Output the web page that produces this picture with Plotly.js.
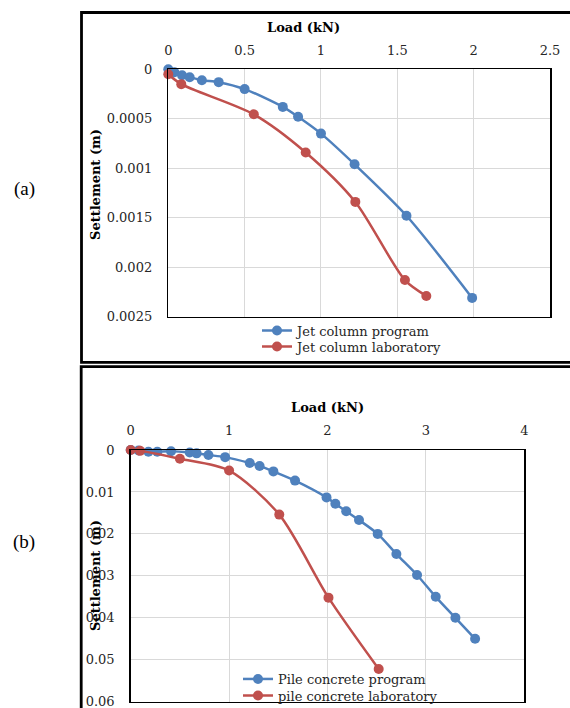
<!DOCTYPE html>
<html>
<head>
<meta charset="utf-8">
<script src="https://cdn.plot.ly/plotly-3.0.1.min.js"></script>
<style>
  html, body { margin: 0; padding: 0; background: #ffffff; }
  #chart { width: 570px; height: 708px; }
</style>
</head>
<body>
<div id="chart"></div>
<script>
// ---------- data: panel (a) jet column ----------
const jetProgramLoad   = [0, 0.04, 0.09, 0.14, 0.22, 0.33, 0.50, 0.75, 0.85, 1.00, 1.22, 1.56, 1.99];
const jetProgramSettle = [0, 0.00003, 0.00006, 0.00008, 0.00011, 0.00013, 0.00020, 0.00038, 0.00048, 0.00065, 0.00096, 0.00148, 0.00231];
const jetLabLoad       = [0, 0.085, 0.56, 0.90, 1.225, 1.55, 1.69];
const jetLabSettle     = [0.00005, 0.00015, 0.000455, 0.00084, 0.00134, 0.00213, 0.00229];

// ---------- data: panel (b) pile concrete ----------
const pileProgramLoad   = [0, 0.08, 0.18, 0.27, 0.41, 0.60, 0.67, 0.79, 0.96, 1.21, 1.31, 1.45, 1.67, 1.99, 2.08, 2.19, 2.32, 2.51, 2.70, 2.91, 3.10, 3.30, 3.50];
const pileProgramSettle = [0, 0.0001, 0.0004, 0.0004, 0.0003, 0.0006, 0.0008, 0.0012, 0.0017, 0.0031, 0.0038, 0.0051, 0.0073, 0.0113, 0.0128, 0.0146, 0.0167, 0.0200, 0.0248, 0.0298, 0.0350, 0.0400, 0.0450];
const pileLabLoad       = [0, 0.095, 0.50, 1.00, 1.51, 2.01, 2.52];
const pileLabSettle     = [0, 0.0002, 0.0021, 0.0049, 0.0154, 0.0352, 0.0522];

// ---------- ticks & labels ----------
const loadTicksA     = [0, 0.5, 1, 1.5, 2, 2.5];
const loadTickTextA  = ["0", "0.5", "1", "1.5", "2", "2.5"];
const settleTicksA   = [0, 0.0005, 0.001, 0.0015, 0.002, 0.0025];
const settleTextA    = ["0", "0.0005", "0.001", "0.0015", "0.002", "0.0025"];
const loadTicksB     = [0, 1, 2, 3, 4];
const loadTickTextB  = ["0", "1", "2", "3", "4"];
const settleTicksB   = [0, 0.01, 0.02, 0.03, 0.04, 0.05, 0.06];
const settleTextB    = ["0", "0.01", "0.02", "0.03", "0.04", "0.05", "0.06"];
const seriesNames    = ["Jet column program", "Jet column laboratory", "Pile concrete program", "pile concrete laboratory"];
const xTitle = "Load (kN)";
const yTitle = "Settlement (m)";
const panelLabels = ["(a)", "(b)"];

// ---------- style / geometry ----------
const W = 570, H = 708;
const px = v => v / W;
const py = v => 1 - v / H;
const BLUE = "#4F81BD", RED = "#C0504D";
const FONT = "DejaVu Serif";
const tickFont = {family: FONT, size: 13, color: "#262626"};

function series(x, y, name, color, xa, ya, lg) {
  return {
    x: x, y: y, name: name, type: "scatter", mode: "lines+markers",
    xaxis: xa, yaxis: ya, legend: lg, cliponaxis: false,
    line: {color: color, width: 2.5, shape: "spline", smoothing: 0.8},
    marker: {color: color, size: 10}
  };
}

const data = [
  series(jetProgramLoad, jetProgramSettle, seriesNames[0], BLUE, "x", "y", "legend"),
  series(jetLabLoad, jetLabSettle, seriesNames[1], RED, "x", "y", "legend2"),
  series(pileProgramLoad, pileProgramSettle, seriesNames[2], BLUE, "x2", "y2", "legend3"),
  series(pileLabLoad, pileLabSettle, seriesNames[3], RED, "x2", "y2", "legend4")
];

function xAxis(domain, anchor, range, vals, text) {
  return {
    domain: domain, anchor: anchor, side: "top", range: range,
    tickmode: "array", tickvals: vals, ticktext: text,
    showgrid: true, gridcolor: "#d9d9d9", gridwidth: 1, zeroline: false,
    showline: true, mirror: true, linecolor: "#000000", linewidth: 1.5,
    ticks: "outside", ticklen: 8, tickcolor: "rgba(0,0,0,0)",
    tickfont: tickFont, fixedrange: true, automargin: false,
    ticklabeloverflow: "allow"
  };
}
function yAxis(domain, anchor, range, vals, text) {
  return {
    domain: domain, anchor: anchor, range: range,
    tickmode: "array", tickvals: vals, ticktext: text,
    showgrid: true, gridcolor: "#d9d9d9", gridwidth: 1, zeroline: false,
    showline: true, mirror: true, linecolor: "#000000", linewidth: 1.5,
    ticks: "outside", ticklen: 12, tickcolor: "rgba(0,0,0,0)",
    tickfont: tickFont, fixedrange: true, automargin: false,
    ticklabeloverflow: "allow"
  };
}

function legendAt(xLeft, yTop) {
  return {
    x: px(xLeft), xanchor: "left", y: py(yTop), yanchor: "top",
    bgcolor: "rgba(0,0,0,0)", borderwidth: 0,
    font: {family: FONT, size: 13, color: "#262626"}, tracegroupgap: 0
  };
}

function ann(text, x, y, size, bold, angle, family) {
  return {
    text: bold ? "<b>" + text + "</b>" : text,
    xref: "paper", yref: "paper", x: px(x), y: py(y),
    xanchor: "center", yanchor: "middle", showarrow: false,
    textangle: angle || 0,
    font: {family: family || FONT, size: size, color: "#000000"}
  };
}

const layout = {
  width: W, height: H,
  margin: {l: 0, r: 0, t: 0, b: 0, pad: 0, autoexpand: false},
  paper_bgcolor: "#ffffff", plot_bgcolor: "#ffffff",
  showlegend: true,
  xaxis:  xAxis([px(168.3), px(550)], "y", [0, 2.5], loadTicksA, loadTickTextA),
  yaxis:  yAxis([py(316.7), py(69.3)], "x", [0.0025, 0], settleTicksA, settleTextA),
  xaxis2: xAxis([px(130.7), px(524.3)], "y2", [0, 4], loadTicksB, loadTickTextB),
  yaxis2: yAxis([py(701.7), py(450)], "x2", [0.06, 0], settleTicksB, settleTextB),
  legend:  legendAt(257, 315.5),
  legend2: legendAt(257, 331.5),
  legend3: legendAt(238, 664),
  legend4: legendAt(238, 680.5),
  annotations: [
    ann(xTitle, 303.5, 28, 13, true),
    ann(xTitle, 327.5, 407.7, 13, true),
    ann(yTitle, 95, 185, 13, true, -90),
    ann(yTitle, 95, 576, 13, true, -90),
    ann(panelLabels[0], 24, 188.7, 19, false, 0, "Liberation Serif"),
    ann(panelLabels[1], 24, 541.7, 19, false, 0, "Liberation Serif")
  ],
  shapes: [
    {type: "rect", xref: "paper", yref: "paper", x0: px(81.5), x1: px(580), y0: py(12.5), y1: py(362.3),
     line: {color: "#000000", width: 2.8}, fillcolor: "rgba(0,0,0,0)", layer: "below"},
    {type: "rect", xref: "paper", yref: "paper", x0: px(81.2), x1: px(580), y0: py(366.7), y1: py(730),
     line: {color: "#000000", width: 2.8}, fillcolor: "rgba(0,0,0,0)", layer: "below"}
  ]
};

Plotly.newPlot("chart", data, layout, {displayModeBar: false, staticPlot: true});
</script>
</body>
</html>
